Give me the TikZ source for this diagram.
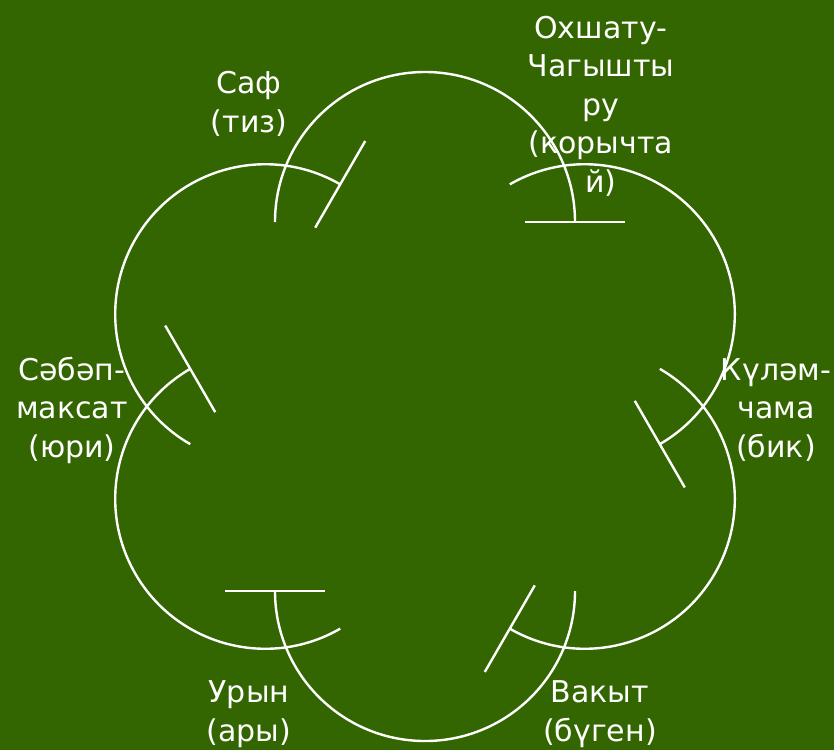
\documentclass[tikz,border=0pt]{standalone}
\usepackage{fontspec}
\setmainfont{DejaVu Sans}
\usetikzlibrary{calc}
\definecolor{bgcol}{HTML}{336600}
\begin{document}
\begin{tikzpicture}[x=1pt,y=-1pt,
  arcline/.style={draw=white,line width=2.4pt},
  lbl/.style={text=white,align=center,inner sep=0pt,font=\fontsize{30}{38.5}\selectfont}]
\useasboundingbox (0,0) rectangle (834,750);
\fill[bgcol] (0,0) rectangle (834,750);
\coordinate (F) at (425,406.5);
\foreach \p/\n in {270/a,330/b,30/c,90/d,150/e,210/f}{
  \coordinate (c\n) at ($(F)+(\p:184.5)$);
  \draw[arcline] ($(c\n)+(\p-90:150)$) arc[start angle=\p-90, end angle=\p+90, radius=150];
  \draw[arcline] ($(c\n)+(\p+90:100)$) -- ($(c\n)+(\p+90:200)$);
}
\node[lbl] (saf) at (249,104) {Саф\\(тиз)};
\node[lbl] (ohs) at (601,106) {Охшату-\\Чагышты\\ру\\(корычта\\й)};
\node[lbl] (kul) at (776,410) {Күләм-\\чама\\(бик)};
\node[lbl] (vak) at (600,714) {Вакыт\\(бүген)};
\node[lbl] (ury) at (249,714) {Урын\\(ары)};
\node[lbl] (seb) at (72,410) {Сәбәп-\\максат\\(юри)};
\end{tikzpicture}
\end{document}
